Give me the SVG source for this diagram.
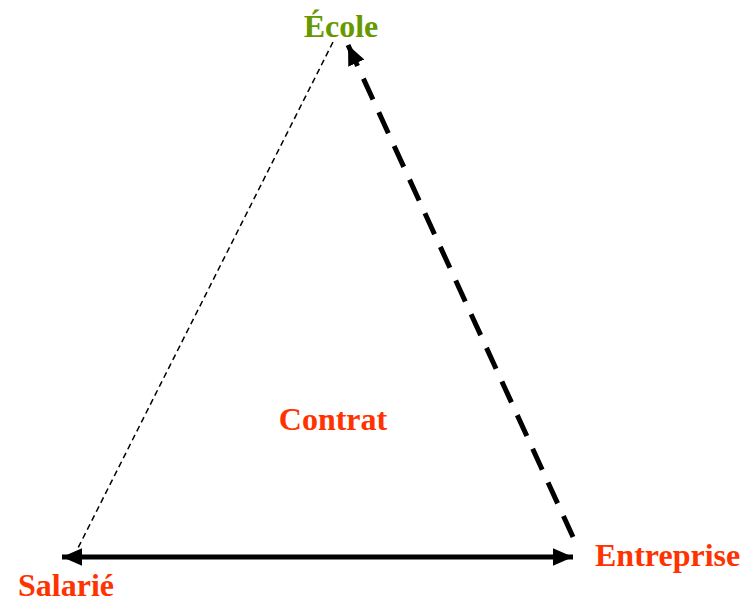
<svg xmlns="http://www.w3.org/2000/svg" width="754" height="601" viewBox="0 0 754 601">
<style>
.lbl{font-family:"Liberation Serif","Times New Roman",serif;font-weight:bold;font-size:32px}
.red{fill:#ff3300}
.green{fill:#669900}
</style>
<defs>
<marker id="ah" markerWidth="4" markerHeight="4" refX="3.4" refY="1.5" orient="auto" markerUnits="strokeWidth" viewBox="0 0 3.4 3">
<path d="M0,0 L3.4,1.5 L0,3 Z" fill="#000"/>
</marker>
</defs>
<rect width="754" height="601" fill="#fff"/>
<g id="connectors">
<line x1="333" y1="42" x2="77" y2="550" stroke="#000" stroke-width="1.5" stroke-dasharray="6,4"/>
<line x1="573" y1="537" x2="348" y2="45" stroke="#000" stroke-width="5" stroke-dasharray="23,14" marker-end="url(#ah)"/>
<line x1="300" y1="557" x2="62" y2="557" stroke="#000" stroke-width="5" marker-end="url(#ah)"/>
<line x1="300" y1="557" x2="573" y2="557" stroke="#000" stroke-width="5" marker-end="url(#ah)"/>
</g>
<g id="ecole"><text class="lbl green" x="341" y="37" text-anchor="middle">École</text></g>
<g id="salarie"><text class="lbl red" x="18" y="596">Salarié</text></g>
<g id="entreprise"><text class="lbl red" x="595" y="566">Entreprise</text></g>
<g id="contrat"><text class="lbl red" x="333" y="430" text-anchor="middle">Contrat</text></g>
</svg>
